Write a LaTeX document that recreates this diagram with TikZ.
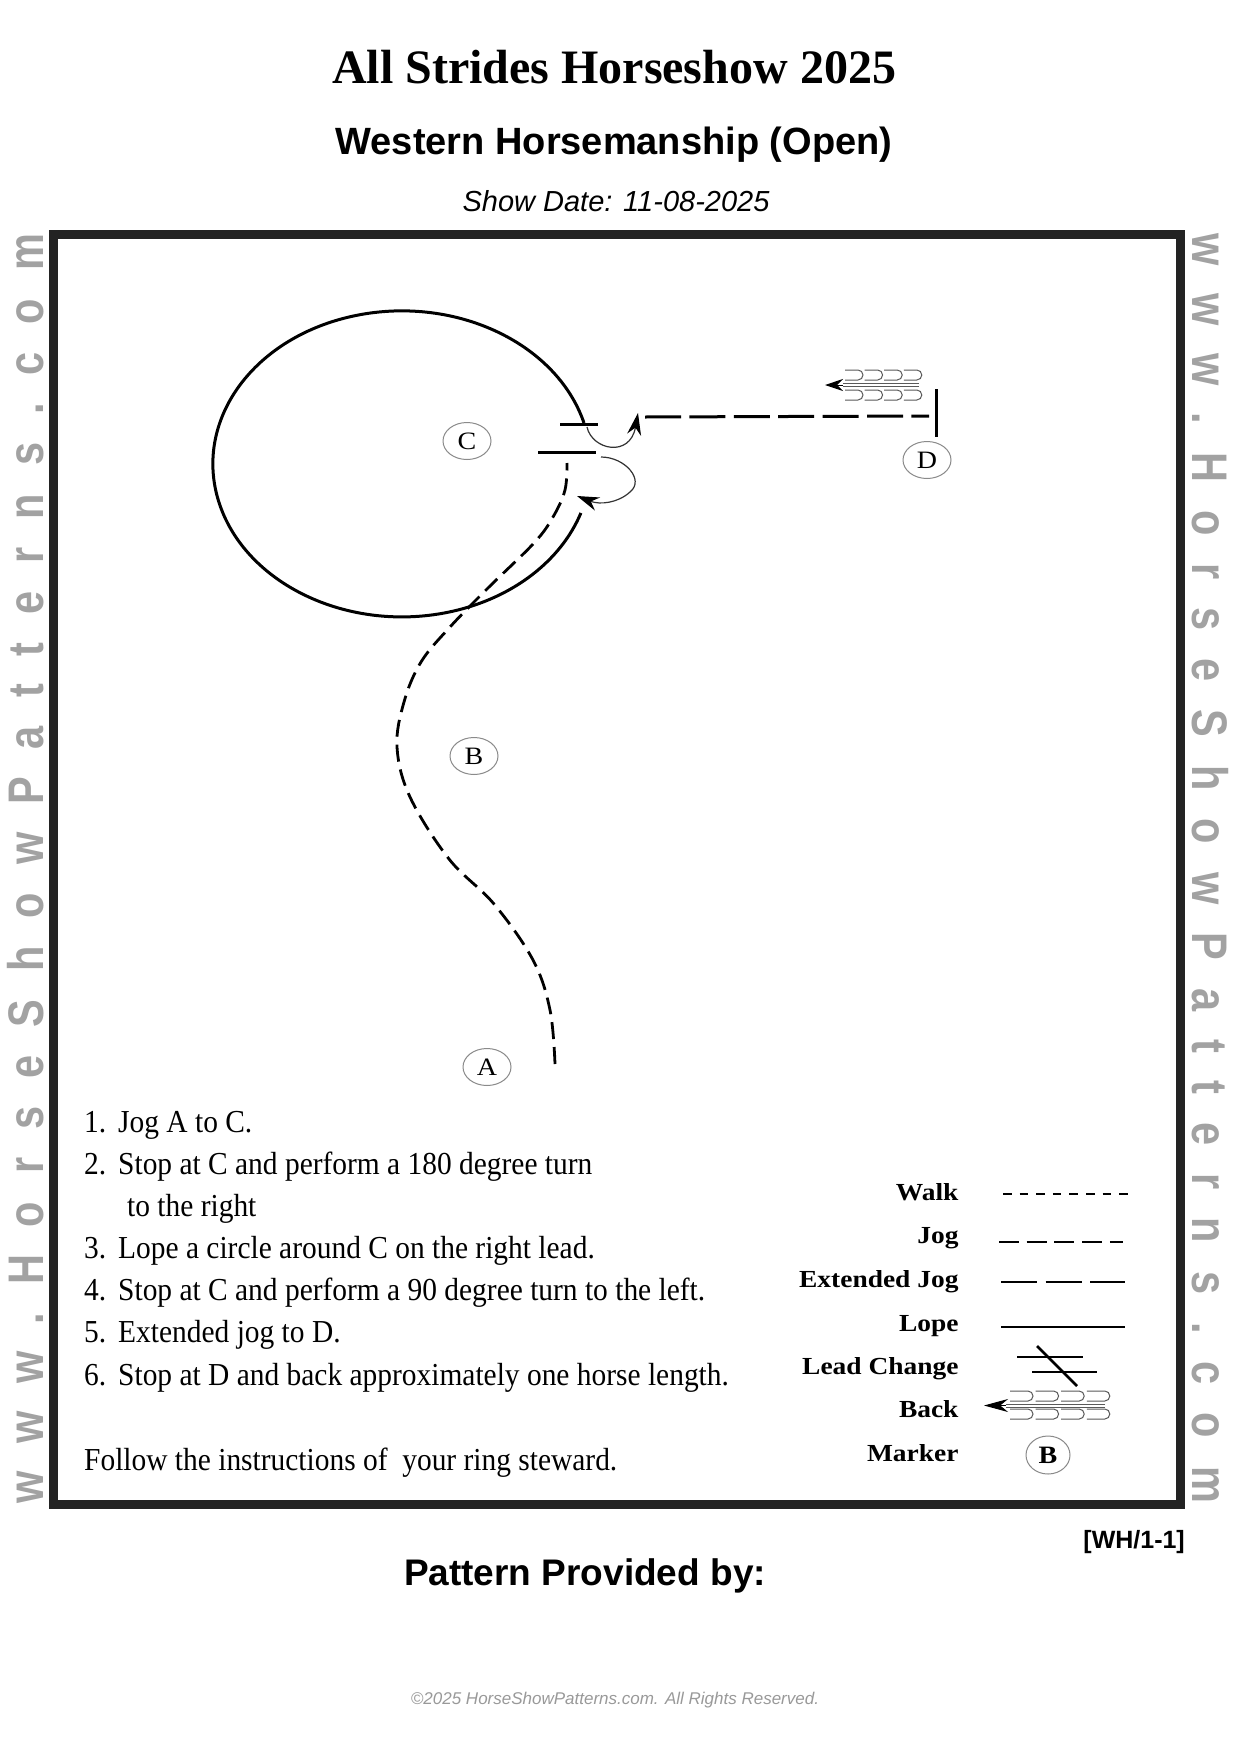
\documentclass[tikz,border=0pt]{standalone}
\usepackage{fontspec}
\setmainfont{Liberation Serif}
\newfontfamily\sansf{Liberation Sans}
\newfontfamily\insf[FakeStretch=0.92]{Liberation Serif}
\newfontfamily\legf[FakeStretch=1.12]{Liberation Serif}
\newfontfamily\sidef[FakeStretch=0.83,LetterSpace=56]{Liberation Sans}
\usetikzlibrary{arrows.meta}
\definecolor{framec}{HTML}{232323}
\definecolor{sidec}{HTML}{A2A2A2}
\definecolor{markc}{HTML}{8A8A8A}
\tikzset{
  lope/.style={line width=3pt,black},
  jogline/.style={line width=2.8pt,black,dash pattern=on 17pt off 8pt},
  extjog/.style={line width=3pt,black,dash pattern=on 36pt off 8.4pt},
  turn/.style={line width=1.2pt,black!80,-{Stealth[length=22pt,width=14pt,black]}},
  marker/.style={draw=markc,line width=1pt,ellipse,minimum width=48pt,minimum height=37pt,inner sep=0pt,font=\legf\fontsize{25}{25}\selectfont},
  shoe/.style={line width=1pt,black!65},
  leglabel/.style={anchor=base east,font=\legf\fontsize{24.5}{24.5}\selectfont\bfseries},
  inst/.style={anchor=base west,inner sep=0pt,font=\insf\fontsize{32}{32}\selectfont},
  legline/.style={line width=2.6pt,black},
  side/.style={anchor=base west,inner sep=0pt,text=sidec,font=\sidef\bfseries\fontsize{50}{50}\selectfont},
}
\usetikzlibrary{shapes.geometric}
% one horseshoe row: #1 x, #2 y top, #3 step, #4 width, #5 height
\newcommand{\shoerow}[5]{%
  \foreach \k in {0,1,2,3}{%
    \draw[shoe] ({#1+\k*#3},#2) -- ++({#4-#5/2},0) arc[start angle=90,end angle=-90,radius=#5/2*1pt] -- ++({-#4+#5/2},0);
  }}
\begin{document}
\begin{tikzpicture}[x=1pt,y=-1pt]
\useasboundingbox (0,0) rectangle (1236,1761);
\fill[white] (0,0) rectangle (1236,1761);
% titles
\node[anchor=base,inner sep=0pt,font=\fontsize{48}{48}\selectfont\bfseries] (title) at (614,83) {All Strides Horseshow 2025};
\node[anchor=base,inner sep=0pt,font=\sansf\fontsize{38}{38}\selectfont\bfseries] (subtitle) at (614,154) {Western Horsemanship (Open)};
\node[anchor=base,inner sep=0pt,font=\sansf\fontsize{29}{29}\selectfont\itshape] (date) at (616,211) {Show Date: 11-08-2025};
% frame
\draw[framec,line width=9pt] (53.5,234.5) rectangle (1180.5,1504.5);
% side text
\node[side,rotate=90] (sideL) at (43,1504) {www.HorseShowPatterns.com};
\node[side,rotate=-90] (sideR) at (1192,233) {www.HorseShowPatterns.com};
% lope circle
\coordinate (cstart) at (584,423);
\draw[lope] (cstart) arc[start angle=15.5,end angle=341.3,x radius=189pt,y radius=153pt];
% lead bars
\coordinate (b1a) at (560,424); \coordinate (b1b) at (598,424);
\coordinate (b2a) at (538,452); \coordinate (b2b) at (596,452);
\draw[lope] (b1a) -- (b1b);
\draw[lope] (b2a) -- (b2b);
% jog A to C
\draw[jogline] plot[smooth,tension=.6] coordinates {(555,1064) (550,1010) (533,960) (494,904) (449,859) (410,797) (397,747) (404,702) (421,662) (450,627) (488,588) (534,543) (553,517) (565,490) (567,463)};
% turns
\coordinate (t1a) at (587,427); \coordinate (t1b) at (638,413);
\draw[turn] (t1a) .. controls (592,450) and (630,458) .. (t1b);
\coordinate (t2a) at (601,457); \coordinate (t2b) at (577,496);
\draw[turn] (t2a) .. controls (625,457) and (645,480) .. (630,492) .. controls (618,503) and (600,505) .. (t2b);
% extended jog to D
\coordinate (e1) at (645,417); \coordinate (e2) at (929,416);
\draw[extjog] (e1) -- (e2);
\coordinate (d1) at (936.5,389); \coordinate (d2) at (936.5,437);
\draw[lope] (d1) -- (d2);
% back symbol
\shoerow{845}{370}{19.6}{18}{10}
\shoerow{845}{390}{19.6}{18}{10}
\coordinate (bk1) at (919,383.5); \coordinate (bk2) at (919,386.5); \coordinate (bk3) at (843,383.5); \coordinate (bk4) at (843,386.5); \coordinate (bktip) at (825,385); \coordinate (bkb) at (843,385);
\draw[shoe] (bk1) -- (bk3);
\draw[shoe] (bk2) -- (bk4);
\draw[-{Stealth[length=18pt,width=12pt,black]},line width=1pt] (bkb) -- (bktip);
% markers
\node[marker] (C) at (467,441) {C};
\node[marker] (D) at (927,460) {D};
\node[marker] (B) at (474,756) {B};
\node[marker] (A) at (487,1067) {A};
% instructions
\node[inst] (n1) at (84,1132) {1.};  \node[inst] (i1) at (118,1132) {Jog A to C.};
\node[inst] (n2) at (84,1174) {2.};  \node[inst] (i2) at (118,1174) {Stop at C and perform a 180 degree turn};
\node[inst] (i2b) at (127,1216) {to the right};
\node[inst] (n3) at (84,1258) {3.};  \node[inst] (i3) at (118,1258) {Lope a circle around C on the right lead.};
\node[inst] (n4) at (84,1300) {4.};  \node[inst] (i4) at (118,1300) {Stop at C and perform a 90 degree turn to the left.};
\node[inst] (n5) at (84,1342) {5.};  \node[inst] (i5) at (118,1342) {Extended jog to D.};
\node[inst] (n6) at (84,1385) {6.};  \node[inst] (i6) at (118,1385) {Stop at D and back approximately one horse length.};
\node[inst] (i7) at (84,1470) {Follow the instructions of \ your ring steward.};
% legend labels
\node[leglabel] (lw) at (962,1200) {Walk};
\node[leglabel] (lj) at (962,1243) {Jog};
\node[leglabel] (le) at (962,1287) {Extended Jog};
\node[leglabel] (ll) at (962,1331) {Lope};
\node[leglabel] (lc) at (962,1374) {Lead Change};
\node[leglabel] (lb) at (962,1417) {Back};
\node[leglabel] (lm) at (962,1461) {Marker};
% legend lines
\coordinate (w1) at (1003,1194); \coordinate (w2) at (1128,1194);
\draw[legline,dash pattern=on 8.5pt off 8.1pt] (w1) -- (w2);
\coordinate (j1) at (999,1242); \coordinate (j2) at (1123,1242);
\draw[legline,dash pattern=on 20pt off 7.7pt] (j1) -- (j2);
\coordinate (x1) at (1001,1282); \coordinate (x2) at (1125,1282);
\draw[legline,dash pattern=on 36pt off 8.5pt] (x1) -- (x2);
\coordinate (o1) at (1001,1327); \coordinate (o2) at (1125,1327);
\draw[legline] (o1) -- (o2);
\coordinate (c1) at (1017,1357); \coordinate (c2) at (1083,1357);
\coordinate (c3) at (1032,1372); \coordinate (c4) at (1097,1372);
\coordinate (c5) at (1037,1346); \coordinate (c6) at (1077,1386);
\draw[legline] (c1) -- (c2);
\draw[legline] (c3) -- (c4);
\draw[legline] (c5) -- (c6);
\shoerow{1010}{1391}{25.6}{23}{10}
\shoerow{1010}{1409}{25.6}{23}{10}
\coordinate (g1) at (1105,1404); \coordinate (g2) at (1105,1407); \coordinate (g3) at (1006,1404); \coordinate (g4) at (1006,1407); \coordinate (gb) at (1006,1405.5); \coordinate (gt) at (984,1405.5);
\draw[shoe] (g1) -- (g3);
\draw[shoe] (g2) -- (g4);
\draw[-{Stealth[length=24pt,width=13pt,black]},line width=1pt] (gb) -- (gt);
\node[marker,font=\legf\fontsize{25}{25}\selectfont\bfseries,minimum width=44pt,minimum height=38pt] (mB) at (1048,1455) {B};
% footer
\node[anchor=base east,inner sep=0pt,font=\sansf\fontsize{25}{25}\selectfont\bfseries] (code) at (1185,1548) {[WH/1-1]};
\node[anchor=base,inner sep=0pt,font=\sansf\fontsize{37}{37}\selectfont\bfseries] (prov) at (585,1585) {Pattern Provided by:};
\node[anchor=base,inner sep=0pt,text=black!40,font=\sansf\fontsize{17}{17}\selectfont\itshape] (copy) at (615,1704) {©2025 HorseShowPatterns.com. All Rights Reserved.};
\end{tikzpicture}
\end{document}
